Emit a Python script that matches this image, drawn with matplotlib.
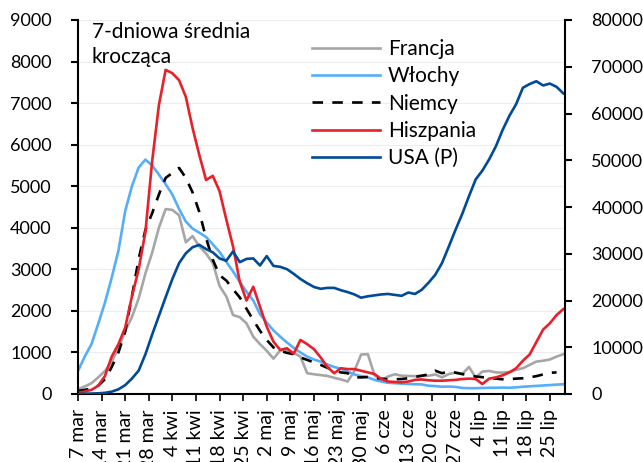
import numpy as np
import pandas as pd
import matplotlib
matplotlib.use("Agg")
import matplotlib.pyplot as plt
import matplotlib.dates as mdates

# ---- data (7-day moving averages, read every 2 days from 7 Mar) ----
dates = pd.date_range("2020-03-07", periods=73, freq="2D")

francja = [113, 180, 260, 400, 555, 780, 1100, 1520, 1850, 2300,
           2900, 3400, 4000, 4450, 4430, 4300, 3650, 3800, 3550, 3380,
           3150, 2600, 2350, 1900, 1850, 1700, 1380, 1200, 1040, 850,
           1050, 1060, 990, 900, 500, 475, 455, 434, 390, 350,
           300, 550, 950, 958, 450, 330, 420, 475, 440, 434,
           430, 434, 440, 470, 400, 480, 514, 480, 650, 400,
           540, 555, 520, 514, 530, 580, 620, 700, 780, 800,
           830, 900, 958]

wlochy = [555, 900, 1200, 1690, 2200, 2800, 3450, 4400, 5000, 5450,
          5640, 5500, 5280, 5050, 4800, 4450, 4150, 3980, 3880, 3780,
          3600, 3420, 3180, 2950, 2700, 2460, 2250, 1923, 1720, 1530,
          1380, 1240, 1110, 1000, 900, 830, 780, 710, 650, 610,
          540, 470, 430, 400, 340, 300, 270, 260, 250, 240,
          235, 230, 200, 190, 175, 180, 170, 145, 140, 140,
          145, 150, 150, 155, 150, 160, 175, 185, 195, 205,
          215, 225, 235]

niemcy = [72, 100, 130, 200, 355, 650, 1000, 1500, 2350, 3250,
          3950, 4350, 4800, 5200, 5320, 5440, 5200, 4850, 4380, 3750,
          3230, 2860, 2730, 2520, 2324, 2050, 1780, 1520, 1300, 1120,
          1038, 990, 958, 880, 820, 760, 700, 630, 570, 520,
          500, 400, 400, 410, 390, 370, 355, 355, 360, 380,
          410, 440, 470, 560, 500, 540, 514, 480, 450, 420,
          405, 390, 370, 355, 360, 370, 379, 400, 430, 470,
          510, 520, np.nan]

hiszpania = [30, 60, 100, 200, 434, 900, 1200, 1600, 2350, 3000,
             3900, 5600, 6950, 7800, 7720, 7550, 7150, 6400, 5750, 5150,
             5250, 4880, 4200, 3550, 2700, 2250, 2580, 2100, 1620, 1260,
             1060, 1100, 970, 1300, 1200, 1080, 880, 650, 500, 620,
             600, 600, 560, 520, 480, 360, 300, 290, 280, 300,
             340, 350, 330, 320, 320, 330, 340, 360, 370, 360,
             240, 370, 400, 450, 520, 620, 800, 950, 1250, 1550,
             1700, 1900, 2044]

usa = [0, 60, 100, 150, 250, 500, 1000, 1900, 3300, 5000,
       8500, 12700, 16700, 20700, 24600, 28000, 30100, 31400, 31900, 31000,
       30300, 29000, 28500, 30500, 28200, 28900, 29000, 27500, 29500, 27400,
       27200, 26700, 25700, 24600, 23700, 22900, 22500, 22700, 22700, 22200,
       21800, 21300, 20600, 20900, 21100, 21300, 21400, 21200, 21000, 21700,
       21400, 22300, 23800, 25500, 28000, 31500, 35100, 38500, 42300, 45900,
       47800, 50200, 53000, 56500, 59500, 62000, 65500, 66300, 66900, 66000,
       66400, 65700, 64300]

tick_dates = pd.date_range("2020-03-07", periods=21, freq="7D")
tick_labels = ["7 mar", "14 mar", "21 mar", "28 mar", "4 kwi", "11 kwi",
               "18 kwi", "25 kwi", "2 maj", "9 maj", "16 maj", "23 maj",
               "30 maj", "6 cze", "13 cze", "20 cze", "27 cze", "4 lip",
               "11 lip", "18 lip", "25 lip"]

series_labels = ["Francja", "Włochy", "Niemcy", "Hiszpania", "USA (P)"]

# ---- style ----
plt.rcParams["font.family"] = ["Lato", "DejaVu Sans"]
FS = 15
LW = 1.9

fig = plt.figure(figsize=(6.43, 4.62), dpi=100)
ax = fig.add_axes([78 / 643, 1 - 394 / 462, (565 - 78) / 643, (394 - 20) / 462])
ax2 = ax.twinx()

l1, = ax.plot(dates, francja, color="#A6A6A6", lw=LW)
l2, = ax.plot(dates, wlochy, color="#55AEF7", lw=LW)
l3, = ax.plot(dates, niemcy, color="black", lw=LW, dashes=(4, 3.5))
l4, = ax.plot(dates, hiszpania, color="#E8202A", lw=LW)
l5, = ax2.plot(dates, usa, color="#004A98", lw=LW)

x0 = mdates.date2num(pd.Timestamp("2020-03-07"))
ax.set_xlim(x0, x0 + 144.5)
ax.set_ylim(0, 9000)
ax2.set_ylim(0, 80000)
ax.set_yticks(np.arange(0, 9001, 1000))
ax2.set_yticks(np.arange(0, 80001, 10000))
ax.set_xticks(mdates.date2num(tick_dates))
ax.set_xticklabels(tick_labels, rotation=90)

for a in (ax, ax2):
    a.spines["top"].set_visible(False)
    for s in ("left", "right", "bottom"):
        a.spines[s].set_linewidth(1.5)
ax.spines["right"].set_visible(False)
ax2.spines["left"].set_visible(False)
ax2.spines["bottom"].set_visible(False)

ax.tick_params(axis="y", labelsize=13, length=5, width=1.5, pad=14)
ax2.tick_params(axis="y", labelsize=13, length=5, width=1.5, pad=14)
ax.tick_params(axis="x", labelsize=14, length=5, width=1.2, pad=6)

ax.grid(axis="y", color="#EDEDED", lw=0.8)
ax.set_axisbelow(True)

ax.text(0.028, 0.995, "7-dniowa średnia\nkrocząca", transform=ax.transAxes,
        fontsize=FS, va="top", ha="left", linespacing=1.35)

leg = ax.legend([l1, l2, l3, l4, l5], series_labels, loc="upper left",
                bbox_to_anchor=(312 / 643, 1 - 39 / 462),
                bbox_transform=fig.transFigure, frameon=False, fontsize=FS,
                handlelength=3.27, handletextpad=0.38, labelspacing=0.35,
                borderpad=0, borderaxespad=0)

fig.savefig("out.png", dpi=100)
